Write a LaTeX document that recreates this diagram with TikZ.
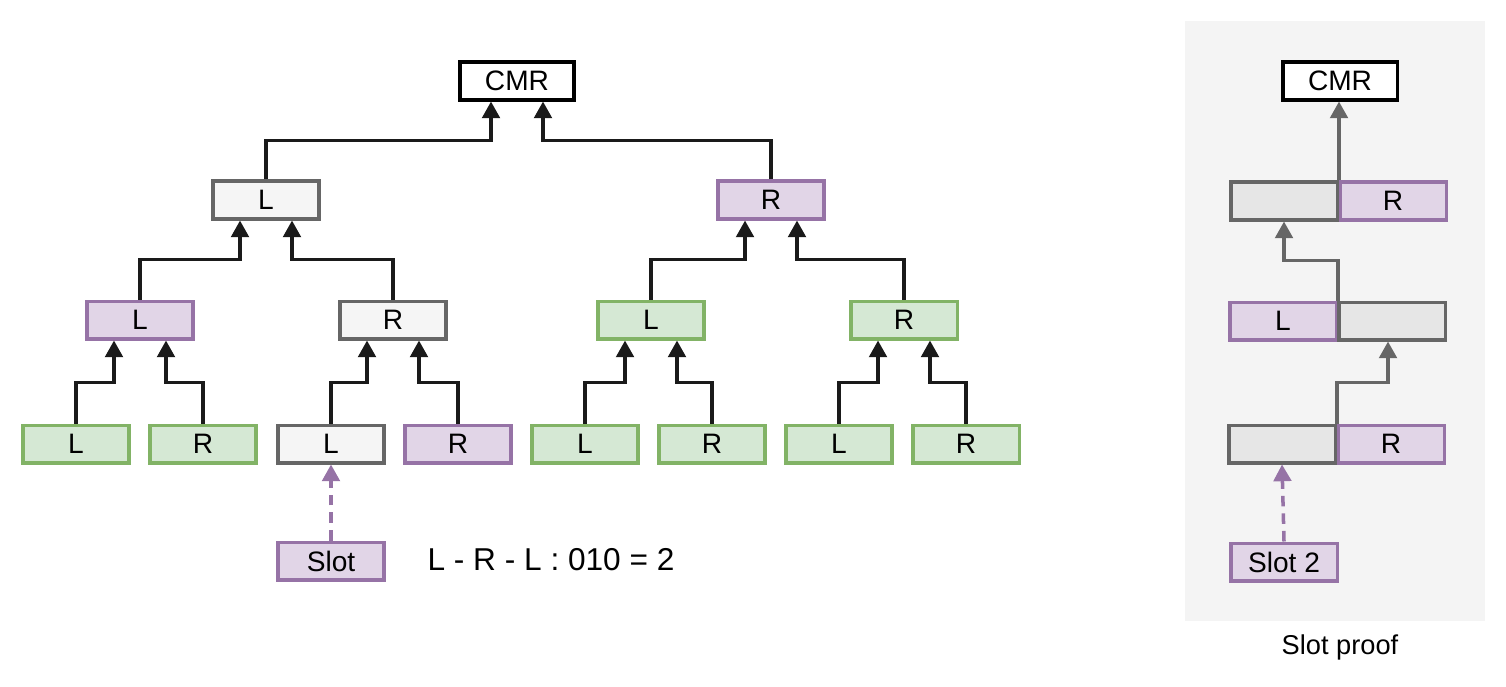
\documentclass[tikz,border=0pt]{standalone}
\usepackage{fontspec}
\setmainfont{Liberation Sans}
\usetikzlibrary{arrows.meta}

\definecolor{greyfill}{HTML}{F5F5F5}
\definecolor{greyline}{HTML}{666666}
\definecolor{darkfill}{HTML}{E6E6E6}
\definecolor{purpfill}{HTML}{E1D5E7}
\definecolor{purpline}{HTML}{9673A6}
\definecolor{greenfill}{HTML}{D5E8D4}
\definecolor{greenline}{HTML}{82B366}
\definecolor{linkblack}{HTML}{1A1A1A}
\definecolor{panelfill}{HTML}{F4F4F4}

\begin{document}
\begin{tikzpicture}[x=0.02cm,y=-0.02cm,
	box/.style={draw,line width=2pt,minimum width=2.13cm,minimum height=0.75cm,inner sep=0pt,font=\fontsize{16}{18}\selectfont},
	greybox/.style={box,draw=greyline,fill=greyfill},
	darkbox/.style={box,draw=greyline,fill=darkfill},
	purplebox/.style={box,draw=purpline,fill=purpfill},
	greenbox/.style={box,draw=greenline,fill=greenfill},
	rootbox/.style={box,draw=black,fill=white,minimum width=2.29cm},
	link/.style={-{Triangle[width=10pt,length=9.5pt]},line width=2pt,draw=linkblack},
	plink/.style={link,draw=greyline},
	slotlink/.style={link,draw=purpline,dash pattern=on 6pt off 4pt}]
		\useasboundingbox (0,0) rectangle (1506,686);
		% tree
		\node[rootbox] (cmr) at (517,81) {CMR};
		\node[greybox] (l) at (266,200) {L};
		\node[purplebox] (r) at (771,200) {R};
		\node[purplebox] (ll) at (140,320) {L};
		\node[greybox] (lr) at (393,320) {R};
		\node[greenbox] (rl) at (651,320) {L};
		\node[greenbox] (rr) at (904,320) {R};
		\node[greenbox] (lll) at (76,444) {L};
		\node[greenbox] (llr) at (203,444) {R};
		\node[greybox] (lrl) at (331,444) {L};
		\node[purplebox] (lrr) at (458,444) {R};
		\node[greenbox] (rll) at (585,444) {L};
		\node[greenbox] (rlr) at (712,444) {R};
		\node[greenbox] (rrl) at (839,444) {L};
		\node[greenbox] (rrr) at (966,444) {R};
		\node[purplebox] (slot) at (331,561) {Slot};
		\node[font=\fontsize{18}{21}\selectfont] (path) at (551,560) {L - R - L : 010 = 2};

		\draw[link] (l.north) -- ++(0,-39) -| ([xshift=-0.52cm]cmr.south);
		\draw[link] (r.north) -- ++(0,-39) -| ([xshift=0.52cm]cmr.south);
		\draw[link] (ll.north) -- ++(0,-40) -| ([xshift=-0.52cm]l.south);
		\draw[link] (lr.north) -- ++(0,-40) -| ([xshift=0.52cm]l.south);
		\draw[link] (rl.north) -- ++(0,-40) -| ([xshift=-0.52cm]r.south);
		\draw[link] (rr.north) -- ++(0,-40) -| ([xshift=0.52cm]r.south);
		\draw[link] (lll.north) -- ++(0,-41) -| ([xshift=-0.52cm]ll.south);
		\draw[link] (llr.north) -- ++(0,-41) -| ([xshift=0.52cm]ll.south);
		\draw[link] (lrl.north) -- ++(0,-41) -| ([xshift=-0.52cm]lr.south);
		\draw[link] (lrr.north) -- ++(0,-41) -| ([xshift=0.52cm]lr.south);
		\draw[link] (rll.north) -- ++(0,-41) -| ([xshift=-0.52cm]rl.south);
		\draw[link] (rlr.north) -- ++(0,-41) -| ([xshift=0.52cm]rl.south);
		\draw[link] (rrl.north) -- ++(0,-41) -| ([xshift=-0.52cm]rr.south);
		\draw[link] (rrr.north) -- ++(0,-41) -| ([xshift=0.52cm]rr.south);
		\draw[slotlink] (slot.north) -- (lrl.south);

		% slot proof
		\fill[panelfill] (1185,21) rectangle (1485,621);
		\node[rootbox] (pcmr) at (1340,81) {CMR};
		\node[purplebox] (par) at (1393,201) {R};
		\node[darkbox] (pal) at (1284,201) {};
		\node[purplebox] (pbl) at (1283,321) {L};
		\node[darkbox] (pbr) at (1392,321) {};
		\node[purplebox] (pcr) at (1391,444) {R};
		\node[darkbox] (pcl) at (1282,444) {};
		\node[purplebox] (slottwo) at (1284,562) {Slot 2};
		\node[font=\fontsize{15.5}{18}\selectfont] (caption) at (1340,647) {Slot proof};

		\draw[plink] (pal.north east) -- (pal.north east |- pcmr.south);
		\draw[plink] (pbl.north east) -- ++(0,-40) -| (pal.south);
		\draw[plink] (pcl.north east) -- ++(0,-41) -| ([xshift=-0.08cm]pbr.south);
		\draw[slotlink] (slottwo.north) -- (pcl.south);
\end{tikzpicture}
\end{document}
